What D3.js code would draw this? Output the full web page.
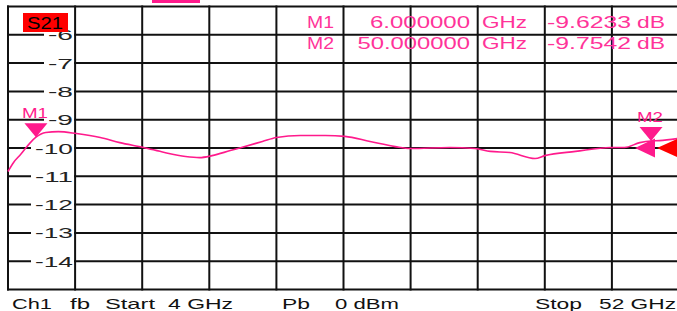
<!DOCTYPE html>
<html>
<head>
<meta charset="utf-8">
<script src="https://cdn.jsdelivr.net/npm/d3@7"></script>
<style>
  body { margin: 0; background: #fff; }
  svg { display: block; font-family: "Liberation Sans", Arial, sans-serif; }
</style>
</head>
<body>
<div id="chart"></div>
<script>
// trace S21
const freqGHz = [4.0, 4.4, 4.9, 5.6, 6.0, 6.7, 7.6, 8.9, 10.6, 12.0, 13.7, 15.2, 16.7, 17.7, 18.6, 19.9,
    20.7, 22.2, 23.2, 24.9, 26.7, 28.1, 29.9, 31.7, 32.8, 35.6, 37.4, 38.5, 39.9, 41.7, 42.4, 44.6,
    47.1, 48.1, 49.2, 50.0, 50.6, 52.0];
const s21dB = [-10.83, -10.51, -10.23, -9.81, -9.62, -9.45, -9.42, -9.49, -9.63, -9.81, -9.98, -10.16, -10.30, -10.34, -10.27, -10.09,
    -9.98, -9.77, -9.63, -9.56, -9.56, -9.59, -9.77, -9.95, -10.02, -9.98, -10.02, -10.12, -10.16, -10.37, -10.27, -10.12,
    -9.98, -9.98, -9.81, -9.75, -9.74, -9.66];

const yTicks = [-6, -7, -8, -9, -10, -11, -12, -13, -14];
const markerNames = ["M1", "M2"];
const markerFreq = [6.0, 50.0];
const markerValue = [-9.6233, -9.7542];
const markerFreqText = ["6.000000", "50.000000"];
const markerValueText = ["-9.6233", "-9.7542"];
const refLevel = -10;

const width = 677, height = 311;
const startF = 4, stopF = 52, topDb = -5, bottomDb = -15;
const pink = "#ff1a8c";

const svg = d3.select("#chart").append("svg")
    .attr("width", width)
    .attr("height", height);

const x = d3.scaleLinear().domain([startF, stopF]).range([8, 679]);
const y = d3.scaleLinear().domain([bottomDb, topDb]).range([289.5, 6.5]);

// grid: 10 divisions each way
const vLines = d3.range(11).map(i => startF + i * (stopF - startF) / 10);
const hLines = d3.range(bottomDb, topDb + 1);

const grid = svg.append("g").attr("stroke", "#111").attr("stroke-width", 2);
grid.selectAll(".v").data(vLines).enter().append("line")
    .attr("x1", d => x(d)).attr("x2", d => x(d))
    .attr("y1", y(topDb) - 1).attr("y2", y(bottomDb) + 1);
grid.selectAll(".h").data(hLines).enter().append("line")
    .attr("x1", x(startF) - 1).attr("x2", width)
    .attr("y1", d => y(d)).attr("y2", d => y(d));

// y labels sit inside the first column on a white patch
const labels = svg.append("g");
labels.selectAll("rect").data(yTicks).enter().append("rect")
    .attr("x", d => 74 - 13 * String(d).length - 4)
    .attr("y", d => y(d) - 7)
    .attr("width", d => 13 * String(d).length + 4)
    .attr("height", 14)
    .attr("fill", "#fff");
labels.selectAll("text").data(yTicks).enter().append("text")
    .attr("x", d => 74 - 13 * String(d).length)
    .attr("y", d => y(d) + 5.5)
    .attr("textLength", d => 13 * String(d).length - 1)
    .attr("lengthAdjust", "spacingAndGlyphs")
    .attr("font-size", 15)
    .attr("fill", "#222")
    .text(d => d);

// trace
const line = d3.line()
    .x((d, i) => x(freqGHz[i]))
    .y(d => y(d))
    .curve(d3.curveMonotoneX);
svg.append("path")
    .datum(s21dB)
    .attr("d", line)
    .attr("fill", "none")
    .attr("stroke", pink)
    .attr("stroke-width", 1.6);

// reference level arrows
const yr = y(refLevel);
svg.append("path")
    .attr("d", `M635,${yr} L655,${yr - 9.5} L655,${yr + 9.5} Z`)
    .attr("fill", pink);
svg.append("path")
    .attr("d", `M657,${yr} L686,${yr - 13} L686,${yr + 13} Z`)
    .attr("fill", "#ff0000");

// marker triangles
const mk = svg.append("g");
markerNames.forEach((name, i) => {
    const mx = x(markerFreq[i]), my = y(markerValue[i]);
    mk.append("path")
        .attr("d", `M${mx},${my} L${mx - 11.5},${my - 14} L${mx + 11.5},${my - 14} Z`)
        .attr("fill", pink);
    mk.append("text")
        .attr("x", mx - 14)
        .attr("y", my - 19)
        .attr("textLength", 26)
        .attr("lengthAdjust", "spacingAndGlyphs")
        .attr("font-size", 15)
        .attr("fill", pink)
        .text(name);
});

// marker table, top right
const tbl = svg.append("g").attr("fill", "#ff3399").attr("font-size", 16.5);
markerNames.forEach((name, i) => {
    const by = 27.5 + i * 21;
    const cells = [
        [307, 27, name],
        [470 - 12.5 * markerFreqText[i].length, 12.5 * markerFreqText[i].length, markerFreqText[i]],
        [482, 45, "GHz"],
        [547, 84, markerValueText[i]],
        [637, 28, "dB"]
    ];
    cells.forEach(c => {
        tbl.append("text")
            .attr("x", c[0]).attr("y", by)
            .attr("textLength", c[1])
            .attr("lengthAdjust", "spacingAndGlyphs")
            .text(c[2]);
    });
});

// trace label box
svg.append("rect").attr("x", 23).attr("y", 13).attr("width", 45).attr("height", 19).attr("fill", "#ff0000");
svg.append("text")
    .attr("x", 27).attr("y", 28.5)
    .attr("textLength", 36)
    .attr("lengthAdjust", "spacingAndGlyphs")
    .attr("font-size", 16)
    .attr("fill", "#000")
    .text("S21");

// little pink tab at the top
svg.append("rect").attr("x", 152).attr("y", 0).attr("width", 48).attr("height", 3).attr("fill", pink);

// channel footer
const footer = [
    [12, 40, "Ch1"], [70, 20, "fb"], [105, 50, "Start"], [168, 65, "4 GHz"],
    [282, 28, "Pb"], [335, 64, "0 dBm"], [535, 47, "Stop"], [599, 77, "52 GHz"]
];
svg.append("g").selectAll("text").data(footer).enter().append("text")
    .attr("x", d => d[0])
    .attr("y", 308.5)
    .attr("textLength", d => d[1])
    .attr("lengthAdjust", "spacingAndGlyphs")
    .attr("font-size", 15)
    .attr("fill", "#111")
    .text(d => d[2]);
</script>
</body>
</html>
